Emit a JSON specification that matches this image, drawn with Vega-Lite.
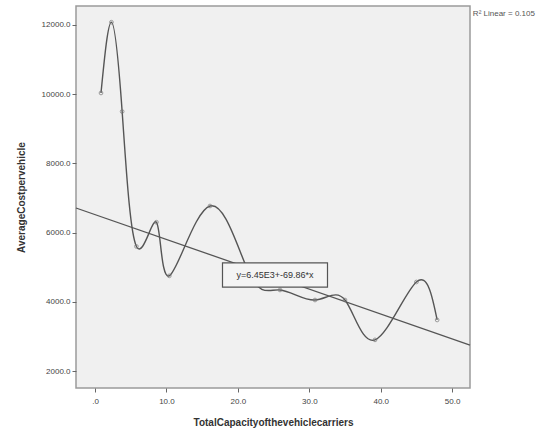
{
  "$schema": "https://vega.github.io/schema/vega-lite/v6.json",
  "width": 394,
  "height": 382,
  "autosize": {"type": "none"},
  "padding": {"left": 76, "top": 6, "right": 83, "bottom": 43},
  "background": "white",
  "config": {
    "view": {"fill": "#f0f0f0", "stroke": "#9a9a9a", "strokeWidth": 1.5},
    "font": "Liberation Sans",
    "axis": {"labelFont": "Liberation Sans", "titleFont": "Liberation Sans"}
  },
  "datasets": {
    "pts": [
      {"cap": 0.84, "cost": 10035},
      {"cap": 2.3, "cost": 12080},
      {"cap": 3.8, "cost": 9500},
      {"cap": 5.8, "cost": 5600},
      {"cap": 8.6, "cost": 6300},
      {"cap": 10.4, "cost": 4750},
      {"cap": 16.1, "cost": 6769},
      {"cap": 21.7, "cost": 4775},
      {"cap": 25.9, "cost": 4342},
      {"cap": 30.8, "cost": 4052},
      {"cap": 35.0, "cost": 4052},
      {"cap": 39.2, "cost": 2900},
      {"cap": 45.0, "cost": 4573},
      {"cap": 47.9, "cost": 3475}
    ],
    "fit": [
      {"cap": -2.66, "cost": 6711},
      {"cap": 52.5, "cost": 2751}
    ],
    "eq": [
      {"cap": 25.2, "cost": 4775, "label": "y=6.45E3+-69.86*x"}
    ],
    "r2": [
      {"cap": 52.9, "cost": 12330, "label": "R² Linear = 0.105"}
    ]
  },
  "layer": [
    {
      "data": {"name": "fit"},
      "mark": {"type": "line", "color": "#555555", "strokeWidth": 1.3},
      "encoding": {
        "x": {"field": "cap", "type": "quantitative", "scale": {"domain": [-2.66, 52.5], "nice": false, "zero": false},
          "axis": {"values": [0, 10, 20, 30, 40, 50], "labelExpr": "datum.value == 0 ? '.0' : format(datum.value, '.1f')", "title": "TotalCapacityofthevehiclecarriers", "grid": false, "domain": false, "tickColor": "#666", "tickSize": 4, "labelPadding": 5, "labelFontSize": 8, "labelColor": "#444", "titleFontSize": 10, "titleFontWeight": "bold", "titleColor": "#333", "titlePadding": 12}},
        "y": {"field": "cost", "type": "quantitative", "scale": {"domain": [1509, 12549], "nice": false, "zero": false},
          "axis": {"values": [2000, 4000, 6000, 8000, 10000, 12000], "format": ".1f", "title": "AverageCostpervehicle", "grid": false, "domain": false, "tickColor": "#666", "tickSize": 4, "labelFontSize": 8, "labelColor": "#444", "titleFontSize": 10, "titleFontWeight": "bold", "titleColor": "#333", "titlePadding": 15}}
      }
    },
    {
      "data": {"name": "pts"},
      "mark": {"type": "line", "interpolate": "natural", "color": "#555555", "strokeWidth": 1.4, "clip": true},
      "encoding": {
        "x": {"field": "cap", "type": "quantitative"},
        "y": {"field": "cost", "type": "quantitative"}
      }
    },
    {
      "data": {"name": "pts"},
      "mark": {"type": "point", "shape": "circle", "size": 14, "filled": false, "color": "#777777", "strokeWidth": 1},
      "encoding": {
        "x": {"field": "cap", "type": "quantitative"},
        "y": {"field": "cost", "type": "quantitative"}
      }
    },
    {
      "data": {"name": "eq"},
      "mark": {"type": "point", "shape": "M-1,-0.23H1V0.23H-1Z", "size": 11025, "filled": true, "fill": "#f4f4f4", "stroke": "#555555", "strokeWidth": 1.2, "opacity": 1},
      "encoding": {
        "x": {"field": "cap", "type": "quantitative"},
        "y": {"field": "cost", "type": "quantitative"}
      }
    },
    {
      "data": {"name": "eq"},
      "mark": {"type": "text", "fontSize": 9, "color": "#333333", "align": "center", "baseline": "middle"},
      "encoding": {
        "x": {"field": "cap", "type": "quantitative"},
        "y": {"field": "cost", "type": "quantitative"},
        "text": {"field": "label"}
      }
    },
    {
      "data": {"name": "r2"},
      "mark": {"type": "text", "fontSize": 8, "color": "#555555", "align": "left", "baseline": "middle", "clip": false},
      "encoding": {
        "x": {"field": "cap", "type": "quantitative"},
        "y": {"field": "cost", "type": "quantitative"},
        "text": {"field": "label"}
      }
    }
  ]
}
